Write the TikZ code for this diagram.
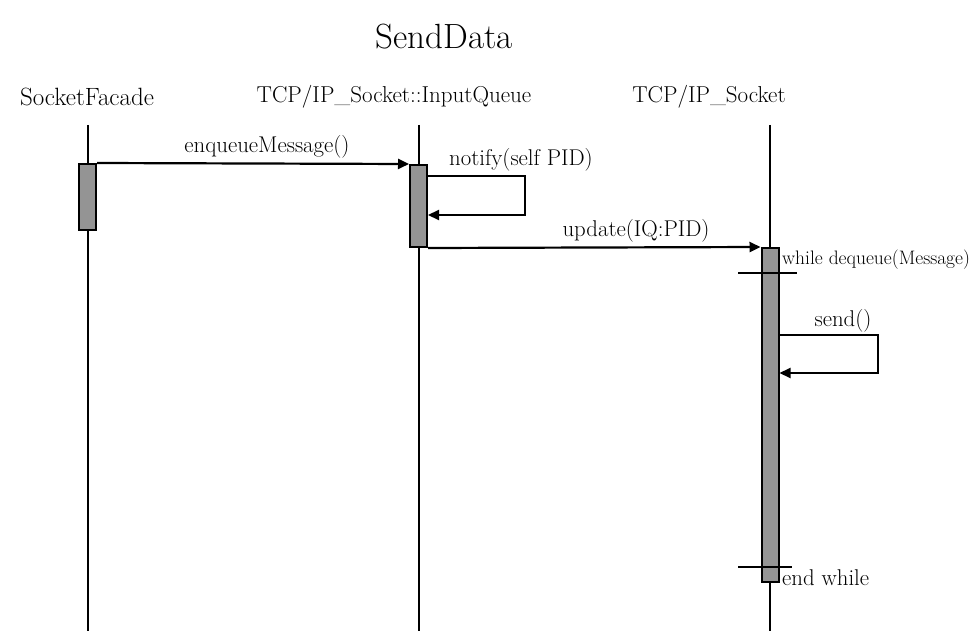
\documentclass[tikz,border=0pt]{standalone}
\usetikzlibrary{arrows.meta}
\begin{document}
\begin{tikzpicture}[x=1pt,y=-1pt,
  head/.style={font=\fontsize{23}{27}\selectfont, inner sep=0pt},
  lbl/.style={font=\fontsize{22.8}{26}\selectfont, inner sep=0pt},
  small/.style={font=\fontsize{19.5}{22}\selectfont, inner sep=0pt},
  life/.style={line width=1.8pt},
  bar/.style={draw, line width=2pt, fill=black!42, inner sep=0pt, minimum width=17pt},
  msg/.style={line width=2.2pt, -{Triangle[length=11pt,width=10pt]}},
  guard/.style={line width=1.6pt}]
\useasboundingbox (0,0) rectangle (979,631);
% title and heads
\node[font=\fontsize{35}{40}\selectfont, inner sep=0pt] (title) at (444,37) {SendData};
\node[head, font=\fontsize{25}{29}\selectfont] (h1) at (87,97) {SocketFacade};
\node[head] (h2) at (394,97) {TCP/IP\_Socket::InputQueue};
\node[head] (h3) at (709,97) {TCP/IP\_Socket};
% lifelines
\coordinate (l1t) at (88,125); \coordinate (l1b) at (88,631);
\coordinate (l2t) at (419,125); \coordinate (l2b) at (419,631);
\coordinate (l3t) at (770,125); \coordinate (l3b) at (770,631);
\draw[life] (l1t) -- (l1b);
\draw[life] (l2t) -- (l2b);
\draw[life] (l3t) -- (l3b);
% activation bars
\node[bar, minimum height=66pt] (b1) at (87.5,197) {};
\node[bar, minimum height=82pt] (b2) at (418.5,206) {};
\node[bar, minimum height=334pt] (b3) at (770,415) {};
% enqueueMessage
\draw[msg] (b1.north east) -- (b2.north west);
\node[lbl] (m1) at (267,147) {enqueueMessage()};
% notify self loop
\coordinate (n1) at (525,176); \coordinate (n2) at (525,215);
\draw[msg] (b2.east |- n1) -- (n1) -- (n2) -- (b2.east |- n2);
\node[lbl] (m2) at (521,160) {notify(self PID)};
% update
\draw[msg] (b2.south east) -- (b3.north west);
\node[lbl] (m3) at (636,231) {update(IQ:PID)};
% while guard
\coordinate (w1) at (738,273); \coordinate (w2) at (797,273);
\draw[guard] (w1) -- (w2);
\node[small, anchor=west] (wl) at (782,260) {while dequeue(Message)};
% send self loop
\coordinate (s1) at (878,335); \coordinate (s2) at (878,373);
\draw[msg] (b3.east |- s1) -- (s1) -- (s2) -- (b3.east |- s2);
\node[lbl] (m4) at (843,321) {send()};
% end while
\coordinate (e1) at (738,567); \coordinate (e2) at (792,567);
\draw[guard] (e1) -- (e2);
\node[lbl, anchor=west] (el) at (782,578) {end while};
\end{tikzpicture}
\end{document}
